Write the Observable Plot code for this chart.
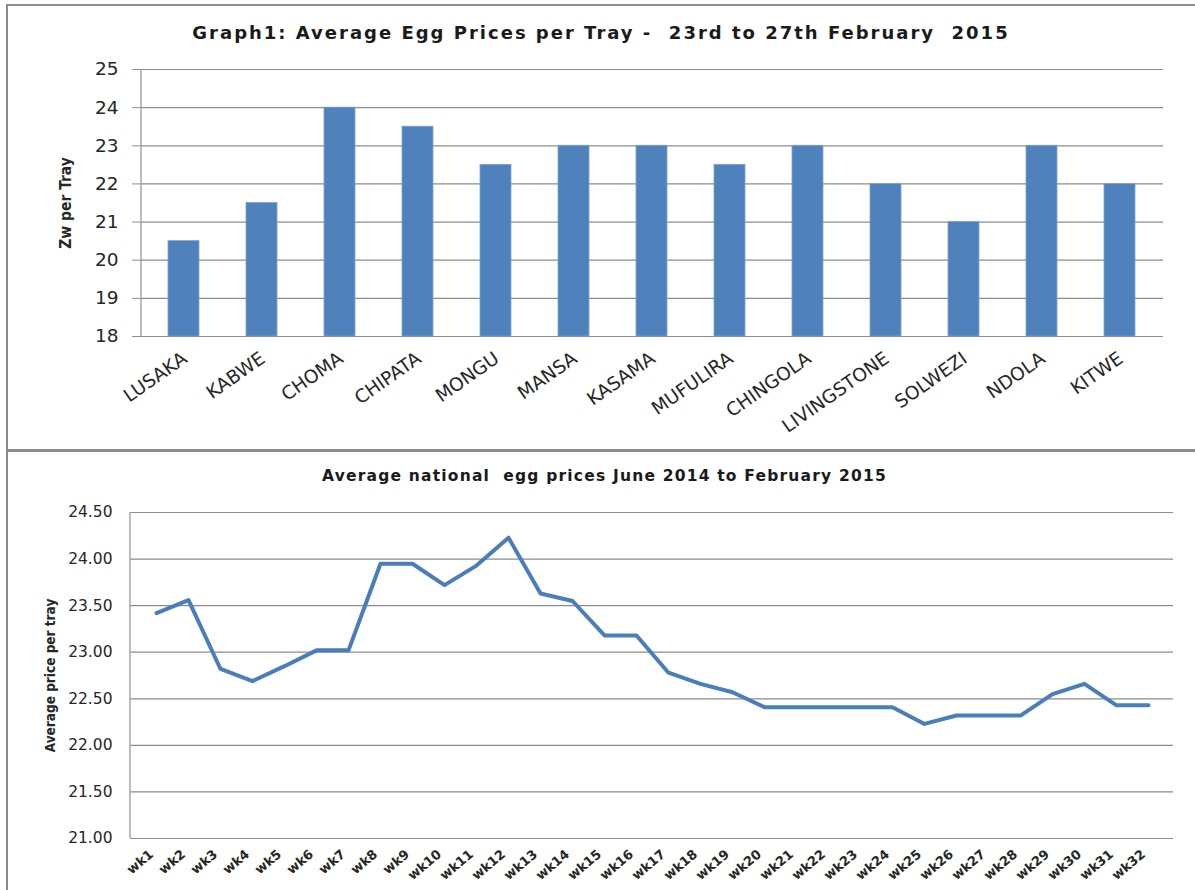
<!DOCTYPE html>
<html><head><meta charset="utf-8">
<script src="https://cdn.jsdelivr.net/npm/d3@7"></script>
<script src="https://cdn.jsdelivr.net/npm/@observablehq/plot@0.6"></script>
<style>
body{margin:0;background:#fff;font-family:"DejaVu Sans",sans-serif;}
#wrap{position:relative;width:1195px;height:890px;overflow:hidden;background:#fff;}
.frame{position:absolute;border:2px solid #8c8c8c;box-sizing:border-box;}
.title{position:absolute;left:0;width:1195px;text-align:center;font-weight:bold;color:#1a1a1a;white-space:pre;font-family:"DejaVu Sans",sans-serif;}
.chart{position:absolute;left:0;}
</style></head><body>
<div id="wrap">
  <div class="frame" style="left:6px;top:4px;width:1200px;height:448px;border-bottom-width:3px"></div>
  <div class="frame" style="left:6px;top:450px;width:1200px;height:460px"></div>
  <div class="chart" id="c1" style="top:0"></div>
  <div class="chart" id="c2" style="top:451px"></div>
  <div class="title" id="t1" style="top:24px;font-size:18px;line-height:18px;letter-spacing:2px;padding-left:7px;box-sizing:border-box"></div>
  <div class="title" id="t2" style="top:469px;font-size:15.5px;line-height:15px;letter-spacing:1.2px;padding-left:14px;box-sizing:border-box"></div>
</div>
<script>
// ---------- data ----------
const title1 = "Graph1: Average Egg Prices per Tray -  23rd to 27th February  2015";
const title2 = "Average national  egg prices June 2014 to February 2015";
const yLabel1 = "Zw per Tray";
const yLabel2 = "Average price per tray";

const cities = ["LUSAKA","KABWE","CHOMA","CHIPATA","MONGU","MANSA","KASAMA","MUFULIRA","CHINGOLA","LIVINGSTONE","SOLWEZI","NDOLA","KITWE"];
const cityPrices = [20.5, 21.5, 24, 23.5, 22.5, 23, 23, 22.5, 23, 22, 21, 23, 22];
const topTicks = [18, 19, 20, 21, 22, 23, 24, 25];

const weeks = ["wk1","wk2","wk3","wk4","wk5","wk6","wk7","wk8","wk9","wk10","wk11","wk12","wk13","wk14","wk15","wk16",
               "wk17","wk18","wk19","wk20","wk21","wk22","wk23","wk24","wk25","wk26","wk27","wk28","wk29","wk30","wk31","wk32"];
const weeklyPrices = [23.42, 23.56, 22.82, 22.69, 22.85, 23.02, 23.02, 23.95, 23.95, 23.72, 23.93, 24.23, 23.63, 23.55, 23.18, 23.18,
                      22.78, 22.66, 22.57, 22.41, 22.41, 22.41, 22.41, 22.41, 22.23, 22.32, 22.32, 22.32, 22.55, 22.66, 22.43, 22.43];
const bottomTicks = [21, 21.5, 22, 22.5, 23, 23.5, 24, 24.5];

// ---------- styles ----------
const barColor = "#4f81bd";
const lineColor = "#4a7ebb";
const gridColor = "#8c8c8c";
const axisColor = "#a6a6a6";
const textColor = "#262626";

document.getElementById("t1").textContent = title1;
document.getElementById("t2").textContent = title2;

function leftAxisLine(color) {
  return (index, scales, values, dims) => {
    const l = document.createElementNS("http://www.w3.org/2000/svg", "line");
    l.setAttribute("x1", dims.marginLeft);
    l.setAttribute("x2", dims.marginLeft);
    l.setAttribute("y1", dims.marginTop);
    l.setAttribute("y2", dims.height - dims.marginBottom);
    l.setAttribute("stroke", color);
    l.setAttribute("stroke-width", 1.5);
    return l;
  };
}

// ---------- chart 1 ----------
const barData = cities.map((c, i) => ({city: c, price: cityPrices[i]}));
const chart1 = Plot.plot({
  width: 1195,
  height: 450,
  marginLeft: 141,
  marginRight: 32,
  marginTop: 69,
  marginBottom: 114,
  style: {background: "transparent", overflow: "visible", fontFamily: "DejaVu Sans, sans-serif"},
  x: {type: "band", domain: cities, paddingInner: 0.6, paddingOuter: 0.3},
  y: {domain: [topTicks[0], topTicks[topTicks.length - 1]]},
  marks: [
    Plot.gridY(topTicks, {stroke: gridColor, strokeOpacity: 1, strokeWidth: 1.2}),
    Plot.barY(barData, {x: "city", y1: topTicks[0], y2: "price", fill: barColor, stroke: "#7fa2d0", strokeWidth: 0.8}),
    leftAxisLine(axisColor),
    Plot.axisY(topTicks, {tickSize: 9, tickPadding: 14, stroke: gridColor, fill: textColor, fontSize: 18.5, label: null}),
    Plot.axisX({tickSize: 0, tickRotate: -35, tickPadding: 20, dx: 1, fill: textColor, fontSize: 18.5, label: null}),
    Plot.text([yLabel1], {frameAnchor: "left", dx: -75, rotate: -90, textAnchor: "middle", lineAnchor: "middle",
      fontSize: 15.5, fontWeight: "bold", fill: textColor,
      fontFamily: "Liberation Sans Narrow, DejaVu Sans Condensed, sans-serif"})
  ]
});
document.getElementById("c1").appendChild(chart1);

// ---------- chart 2 ----------
const lineData = weeks.map((w, i) => ({week: w, price: weeklyPrices[i]}));
const chart2 = Plot.plot({
  width: 1195,
  height: 439,
  marginLeft: 130,
  marginRight: 22,
  marginTop: 61,
  marginBottom: 52,
  style: {background: "transparent", overflow: "visible", fontFamily: "DejaVu Sans, sans-serif"},
  x: {type: "point", domain: weeks, padding: 0.5},
  y: {domain: [bottomTicks[0], bottomTicks[bottomTicks.length - 1]]},
  marks: [
    Plot.gridY(bottomTicks, {stroke: gridColor, strokeOpacity: 1, strokeWidth: 1.2}),
    leftAxisLine(axisColor),
    Plot.line(lineData, {x: "week", y: "price", stroke: lineColor, strokeWidth: 4, strokeLinejoin: "round", strokeLinecap: "round"}),
    Plot.axisY(bottomTicks, {tickSize: 0, tickPadding: 18, tickFormat: d3.format(".2f"), fill: textColor, fontSize: 15.5, label: null}),
    Plot.axisX({tickSize: 0, tickRotate: -40, tickPadding: 14, dx: -5, fill: textColor, fontSize: 13, fontWeight: "bold", label: null}),
    Plot.text([yLabel2], {frameAnchor: "left", dx: -80, rotate: -90, textAnchor: "middle", lineAnchor: "middle",
      fontSize: 13.5, fontWeight: "bold", fill: textColor,
      fontFamily: "Liberation Sans Narrow, DejaVu Sans Condensed, sans-serif"})
  ]
});
document.getElementById("c2").appendChild(chart2);
</script>
</body></html>
